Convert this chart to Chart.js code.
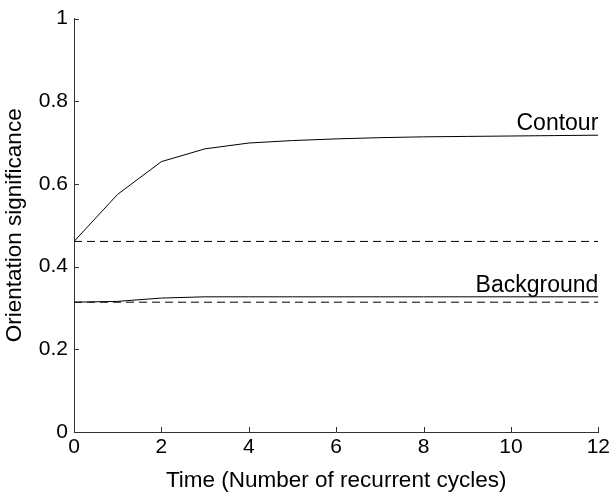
<!DOCTYPE html>
<html>
<head>
<meta charset="utf-8">
<script src="https://cdn.jsdelivr.net/npm/chart.js@4.4.1/dist/chart.umd.min.js"></script>
<style>
  html, body { margin: 0; padding: 0; background: #fff; }
  #wrap { width: 613px; height: 496px; position: relative; }
</style>
</head>
<body>
<div id="wrap"><canvas id="chart"></canvas></div>
<script>
// recurrent cycles (x) and the measured orientation significance
const cycles = [0, 1, 2, 3, 4, 5, 6, 7, 8, 9, 10, 11, 12];
const contour = [0.461, 0.575, 0.654, 0.685, 0.699, 0.705, 0.709, 0.712, 0.714, 0.715, 0.716, 0.717, 0.718];
const background = [0.314, 0.316, 0.324, 0.327, 0.327, 0.327, 0.327, 0.327, 0.327, 0.327, 0.327, 0.327, 0.327];

// starting levels (dashed reference lines)
const contourStart = 0.461;
const backgroundStart = 0.314;

const xTicks = [0, 2, 4, 6, 8, 10, 12];
const yTicks = [0, 0.2, 0.4, 0.6, 0.8, 1];

const FONT = 'Liberation Sans, Arial, Helvetica, sans-serif';

const toPoints = (xs, ys) => xs.map((x, i) => ({ x: x, y: ys[i] }));
const flat = (v) => [{ x: cycles[0], y: v }, { x: cycles[cycles.length - 1], y: v }];

// small ticks pointing into the plot, plus the curve names
const inwardTicks = {
  id: 'inwardTicks',
  afterDraw(chart) {
    const { ctx, chartArea, scales } = chart;
    ctx.save();
    ctx.strokeStyle = '#333';
    ctx.lineWidth = 1;
    ctx.beginPath();
    xTicks.forEach(v => {
      const px = Math.round(scales.x.getPixelForValue(v)) + 0.5;
      ctx.moveTo(px, chartArea.bottom);
      ctx.lineTo(px, chartArea.bottom - 5);
    });
    yTicks.forEach(v => {
      const py = Math.round(scales.y.getPixelForValue(v)) + 0.5;
      ctx.moveTo(chartArea.left, py);
      ctx.lineTo(chartArea.left + 5, py);
    });
    ctx.stroke();

    ctx.fillStyle = '#000';
    ctx.font = '23px ' + FONT;
    ctx.textAlign = 'right';
    ctx.textBaseline = 'alphabetic';
    const xEnd = scales.x.getPixelForValue(12);
    ctx.fillText('Contour', xEnd, scales.y.getPixelForValue(contour[contour.length - 1]) - 5);
    ctx.fillText('Background', xEnd, scales.y.getPixelForValue(background[background.length - 1]) - 5);
    ctx.restore();
  }
};

new Chart(document.getElementById('chart'), {
  type: 'line',
  data: {
    datasets: [
      { data: toPoints(cycles, contour), borderColor: '#000', borderWidth: 1 },
      { data: toPoints(cycles, background), borderColor: '#000', borderWidth: 1 },
      { data: flat(contourStart), borderColor: '#000', borderWidth: 1, borderDash: [8, 5] },
      { data: flat(backgroundStart), borderColor: '#000', borderWidth: 1, borderDash: [8, 5] }
    ]
  },
  options: {
    responsive: true,
    maintainAspectRatio: false,
    animation: false,
    layout: { padding: { top: 17, right: 13, left: 0, bottom: 0 } },
    elements: { point: { radius: 0 }, line: { tension: 0 } },
    plugins: { legend: { display: false }, tooltip: { enabled: false } },
    scales: {
      x: {
        type: 'linear',
        min: 0,
        max: 12,
        afterBuildTicks: (s) => { s.ticks = xTicks.map(v => ({ value: v })); },
        afterFit: (s) => { s.height = 64; },
        grid: { display: true, drawOnChartArea: false, drawTicks: false },
        border: { display: true, color: '#333', width: 1 },
        ticks: { color: '#000', font: { family: FONT, size: 21 }, padding: 3, maxRotation: 0 },
        title: {
          display: true,
          text: 'Time (Number of recurrent cycles)',
          color: '#000',
          font: { family: FONT, size: 22.5 },
          padding: { top: 0, bottom: 2 }
        }
      },
      y: {
        min: 0,
        max: 1,
        afterBuildTicks: (s) => { s.ticks = yTicks.map(v => ({ value: v })); },
        afterFit: (s) => { s.width = 74; },
        grid: { display: true, drawOnChartArea: false, drawTicks: false },
        border: { display: true, color: '#333', width: 1 },
        ticks: {
          color: '#000',
          font: { family: FONT, size: 21 },
          padding: 6,
          callback: (v) => String(v)
        },
        title: {
          display: true,
          text: 'Orientation significance',
          color: '#000',
          font: { family: FONT, size: 22.5 },
          padding: { top: 1, bottom: 0 }
        }
      }
    }
  },
  plugins: [inwardTicks]
});
</script>
</body>
</html>
